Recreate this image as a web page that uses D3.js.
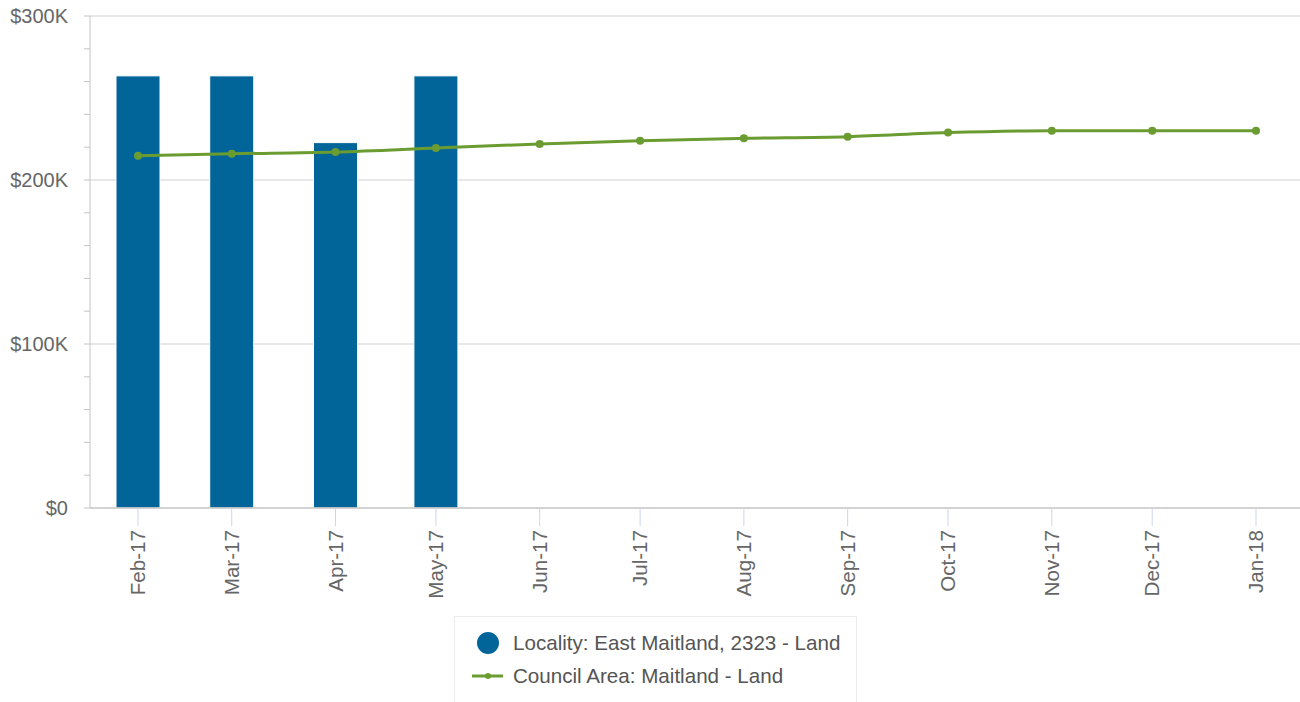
<!DOCTYPE html>
<html>
<head>
<meta charset="utf-8">
<script src="https://cdn.jsdelivr.net/npm/d3@7"></script>
<style>
  body { margin: 0; background: #fff; }
  text { font-family: "Liberation Sans", Arial, sans-serif; }
</style>
</head>
<body>
<div id="chart"></div>
<script>
// datos
const months = ["2017-02-01", "2017-03-01", "2017-04-01", "2017-05-01", "2017-06-01", "2017-07-01",
                "2017-08-01", "2017-09-01", "2017-10-01", "2017-11-01", "2017-12-01", "2018-01-01"];
const localityValues = [263500, 263500, 222800, 263500, null, null, null, null, null, null, null, null];
const councilValues = [214800, 216000, 217100, 219500, 222000, 224000, 225400, 226400, 228900, 230100, 230100, 230100];
const yTicks = [0, 100000, 200000, 300000];
const yMinorTicks = d3.range(0, 300001, 20000);
const seriesNames = ["Locality: East Maitland, 2323 - Land", "Council Area: Maitland - Land"];

const width = 1300, height = 702;
const plot = { left: 90, right: 1300, top: 16, bottom: 508 };
const blue = "#02659a", green = "#6a9c31";

const parseDate = d3.timeParse("%Y-%m-%d");
const dates = months.map(parseDate);

const svg = d3.select("#chart").append("svg")
    .attr("width", width)
    .attr("height", height);

// escala de tiempo (los meses no son equidistantes)
const x = d3.scaleTime()
    .domain(d3.extent(dates))
    .range([138, 1256]);

const y = d3.scaleLinear()
    .domain([0, 300000])
    .range([plot.bottom, plot.top]);

// lineas de la grilla
svg.append("g")
    .selectAll("line")
    .data(yTicks.filter(d => d > 0))
    .join("line")
    .attr("x1", plot.left).attr("x2", plot.right)
    .attr("y1", d => y(d)).attr("y2", d => y(d))
    .attr("stroke", "#cfcfcf")
    .attr("stroke-width", 1);

// ticks menores del eje y
svg.append("g")
    .selectAll("line")
    .data(yMinorTicks)
    .join("line")
    .attr("x1", plot.left - 6).attr("x2", plot.left)
    .attr("y1", d => y(d)).attr("y2", d => y(d))
    .attr("stroke", "#c4c4c4");

// eje y
svg.append("line")
    .attr("x1", plot.left).attr("x2", plot.left)
    .attr("y1", plot.top).attr("y2", plot.bottom)
    .attr("stroke", "#c4c4c4");

svg.append("g")
    .selectAll("text")
    .data(yTicks)
    .join("text")
    .attr("x", 68)
    .attr("y", d => y(d))
    .attr("dy", "0.35em")
    .attr("text-anchor", "end")
    .style("font-size", "20px")
    .attr("fill", "#666")
    .text(d => d === 0 ? "$0" : "$" + d / 1000 + "K");

// barras
const barWidth = 44;
svg.append("g")
    .selectAll("rect")
    .data(dates.map((d, i) => ({ date: d, value: localityValues[i] })).filter(d => d.value != null))
    .join("rect")
    .attr("x", d => x(d.date) - barWidth / 2)
    .attr("y", d => y(d.value))
    .attr("width", barWidth)
    .attr("height", d => y(0) - y(d.value))
    .attr("fill", blue)
    .attr("stroke", "#ffffff")
    .attr("stroke-width", 1);

// eje x
svg.append("line")
    .attr("x1", plot.left).attr("x2", plot.right)
    .attr("y1", plot.bottom).attr("y2", plot.bottom)
    .attr("stroke", "#c4c4c4")
    .attr("stroke-width", 1.5);

const xAxis = svg.append("g");
xAxis.selectAll("line")
    .data(dates)
    .join("line")
    .attr("x1", d => x(d)).attr("x2", d => x(d))
    .attr("y1", plot.bottom + 1).attr("y2", plot.bottom + 18)
    .attr("stroke", "#ccd6eb");

const fmt = d3.timeFormat("%b-%y");
xAxis.selectAll("text")
    .data(dates)
    .join("text")
    .attr("transform", d => `translate(${x(d)},530) rotate(-90)`)
    .attr("dy", "0.35em")
    .attr("text-anchor", "end")
    .style("font-size", "20.6px")
    .attr("fill", "#666")
    .text(d => fmt(d));

// linea del area del consejo
const lineData = dates.map((d, i) => ({ date: d, value: councilValues[i] }));
const line = d3.line()
    .x(d => x(d.date))
    .y(d => y(d.value))
    .curve(d3.curveMonotoneX);

svg.append("path")
    .datum(lineData)
    .attr("d", line)
    .attr("fill", "none")
    .attr("stroke", green)
    .attr("stroke-width", 3);

svg.append("g")
    .selectAll("circle")
    .data(lineData)
    .join("circle")
    .attr("cx", d => x(d.date))
    .attr("cy", d => y(d.value))
    .attr("r", 4)
    .attr("fill", green);

// leyenda
const legend = svg.append("g");
legend.append("rect")
    .attr("x", 454.5).attr("y", 616.5)
    .attr("width", 402).attr("height", 100)
    .attr("fill", "none")
    .attr("stroke", "#ececec");

legend.append("circle")
    .attr("cx", 488).attr("cy", 643)
    .attr("r", 11)
    .attr("fill", blue);

legend.append("line")
    .attr("x1", 472).attr("x2", 503)
    .attr("y1", 676).attr("y2", 676)
    .attr("stroke", green)
    .attr("stroke-width", 3);

legend.append("circle")
    .attr("cx", 488).attr("cy", 676)
    .attr("r", 3)
    .attr("fill", green);

legend.selectAll("text.item")
    .data(seriesNames)
    .join("text")
    .attr("class", "item")
    .attr("x", 513)
    .attr("y", (d, i) => 643 + i * 33)
    .attr("dy", "0.35em")
    .style("font-size", "20.6px")
    .attr("fill", "#555")
    .text(d => d);
</script>
</body>
</html>
